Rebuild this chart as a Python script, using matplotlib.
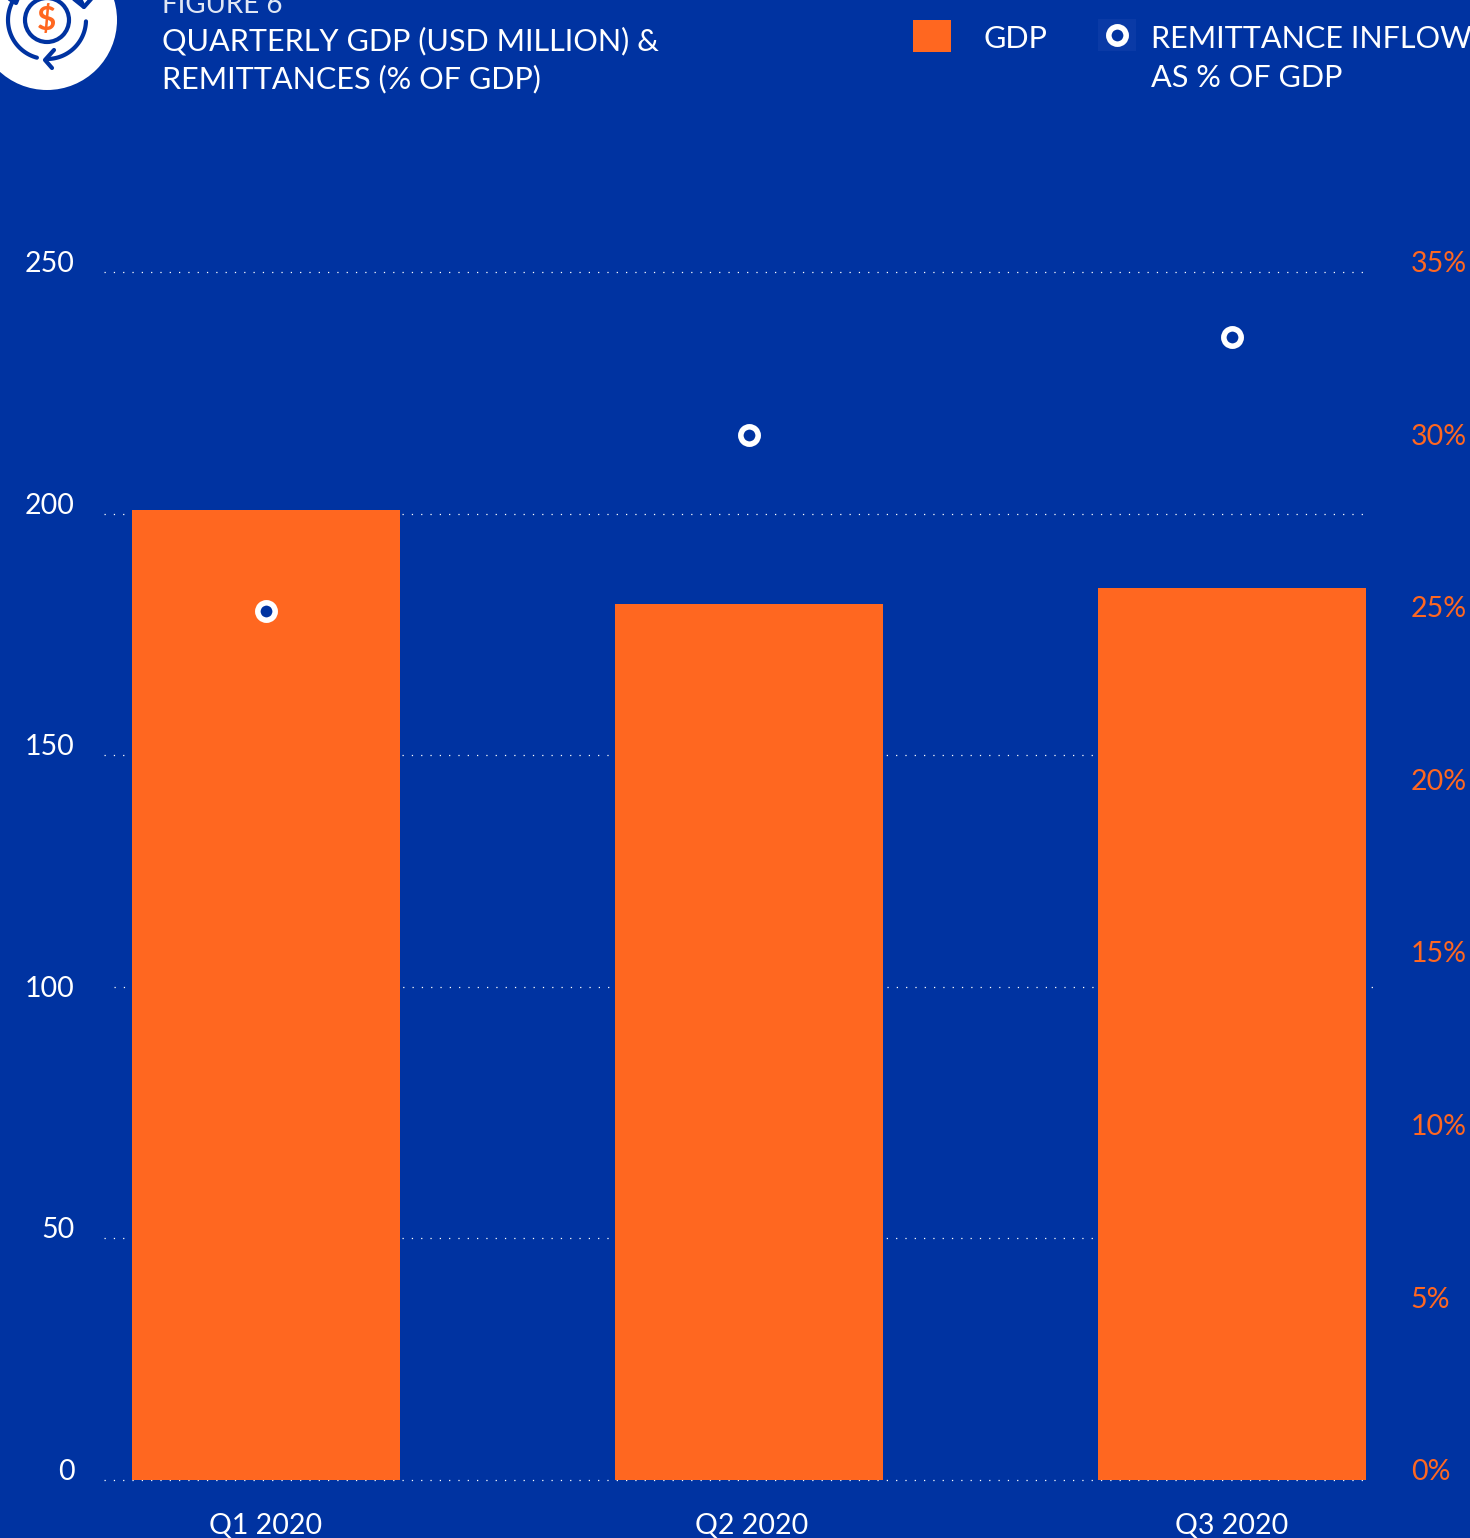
import matplotlib
matplotlib.use("Agg")
import matplotlib.pyplot as plt
import numpy as np
from matplotlib.patches import Circle, Rectangle
from matplotlib.transforms import ScaledTranslation

# data
quarters = ["Q1 2020", "Q2 2020", "Q3 2020"]
gdp = [200.8, 181.3, 184.6]
remittance_pct = [25.18, 30.28, 33.13]
left_ticks = [0, 50, 100, 150, 200, 250]
right_ticks = [0, 5, 10, 15, 20, 25, 30, 35]

BLUE = "#0033a1"
ORANGE = "#ff6720"
W, H = 1470, 1538
plt.rcParams["font.family"] = ["Lato", "DejaVu Sans"]

fig = plt.figure(figsize=(W / 100, H / 100), dpi=100, facecolor=BLUE)


def px_axes(left, right, top, bottom):
    return fig.add_axes([left / W, 1 - bottom / H, (right - left) / W, (bottom - top) / H])


ax = px_axes(104, 1376, 272, 1479.5)
ax.set_facecolor(BLUE)
for s in ax.spines.values():
    s.set_visible(False)

x = np.arange(len(quarters))
ax.set_xlim(-162 / 483, 1110 / 483)
ax.set_ylim(0, 250)

# gridlines, the one at 100 sits a bit off in the original
dots = (0, (1, 6.45))
x0, x1 = ax.get_xlim()
for v in left_ticks:
    if v == 100:
        ax.hlines(102, x0 + 10 / 483, x1, color="white", lw=0.9, linestyles=dots, zorder=1, clip_on=False)
    else:
        ax.hlines(v, x0, x1 - 8 / 483, color="white", lw=0.9, linestyles=dots, zorder=1, clip_on=False)

ax.bar(x, gdp, width=268 / 483, color=ORANGE, zorder=2)

ax.set_xticks(x, quarters, color="white", fontsize=20.5)
ax.set_yticks(left_ticks, [str(v) for v in left_ticks], color="white", fontsize=20.5)
ax.tick_params(axis="x", length=0, pad=24)
ax.tick_params(axis="y", length=0, pad=21)

ax2 = ax.twinx()
for s in ax2.spines.values():
    s.set_visible(False)
ax2.set_ylim(0, 35)
ax2.plot(x, remittance_pct, ls="none", marker="o", ms=12.5, mfc=BLUE, mec="white", mew=4, zorder=5, snap=False)
ax2.set_yticks(right_ticks, [f"{v}%" for v in right_ticks], color=ORANGE, fontsize=20.5)
ax2.tick_params(axis="y", length=0, pad=25)

# value labels sit 10 px above their gridline
shift = ScaledTranslation(0, 10 / 100, fig.dpi_scale_trans)
for lab in ax.get_yticklabels() + ax2.get_yticklabels():
    lab.set_transform(lab.get_transform() + shift)
q2_lab = ax.get_xticklabels()[1]
q2_lab.set_transform(q2_lab.get_transform() + ScaledTranslation(3 / 100, 0, fig.dpi_scale_trans))

# overlay in pixel coordinates for header, legend and logo
top = fig.add_axes([0, 0, 1, 1], facecolor="none")
top.set_xlim(0, W)
top.set_ylim(H, 0)
top.axis("off")

top.text(162, 5, "FIGURE 6", color="#dfe6f4", fontsize=20, va="center")
top.text(162, 41, "QUARTERLY GDP (USD MILLION) &", color="white", fontsize=22.05, va="center")
top.text(162, 79, "REMITTANCES (% OF GDP)", color="white", fontsize=22.05, va="center")

top.add_patch(Rectangle((913, 20), 38, 32, color=ORANGE, lw=0))
top.text(984, 39, "GDP", color="white", fontsize=22.05, va="center")
top.add_patch(Rectangle((1098, 19), 38, 32, color="#0a3aa6", lw=0))
top.plot([1117], [35], marker="o", ms=12.5, mfc=BLUE, mec="white", mew=4, snap=False)
top.text(1151, 39, "REMITTANCE INFLOW", color="white", fontsize=22.05, va="center")
top.text(1151, 78, "AS % OF GDP", color="white", fontsize=22.05, va="center")

# logo
cx, cy = 47, 20
top.add_patch(Circle((cx, cy), 70, color="white", lw=0, zorder=3))
top.add_patch(Circle((cx, cy), 22, fc="none", ec=BLUE, lw=3, zorder=4))
for a0, a1 in [(2, 88), (105, 215), (-60, -20)]:
    t = np.radians(np.linspace(a0, a1, 40))
    top.plot(cx + 39 * np.cos(t), cy + 39 * np.sin(t), color=BLUE, lw=3, solid_capstyle="round", zorder=4)
top.plot([54, 45, 52], [50, 60, 68], color=BLUE, lw=3, solid_capstyle="round", zorder=4)
top.plot([74, 84, 92], [-1, 7, -2], color=BLUE, lw=3, solid_capstyle="round", zorder=4)
top.plot([8, 16, 18], [-2, 3, -2], color=BLUE, lw=3, solid_capstyle="round", zorder=4)
top.text(cx, cy, "$", color=ORANGE, fontsize=24, fontweight="bold", ha="center", va="center", zorder=5)

fig.savefig("out.png", dpi=100, facecolor=BLUE)
